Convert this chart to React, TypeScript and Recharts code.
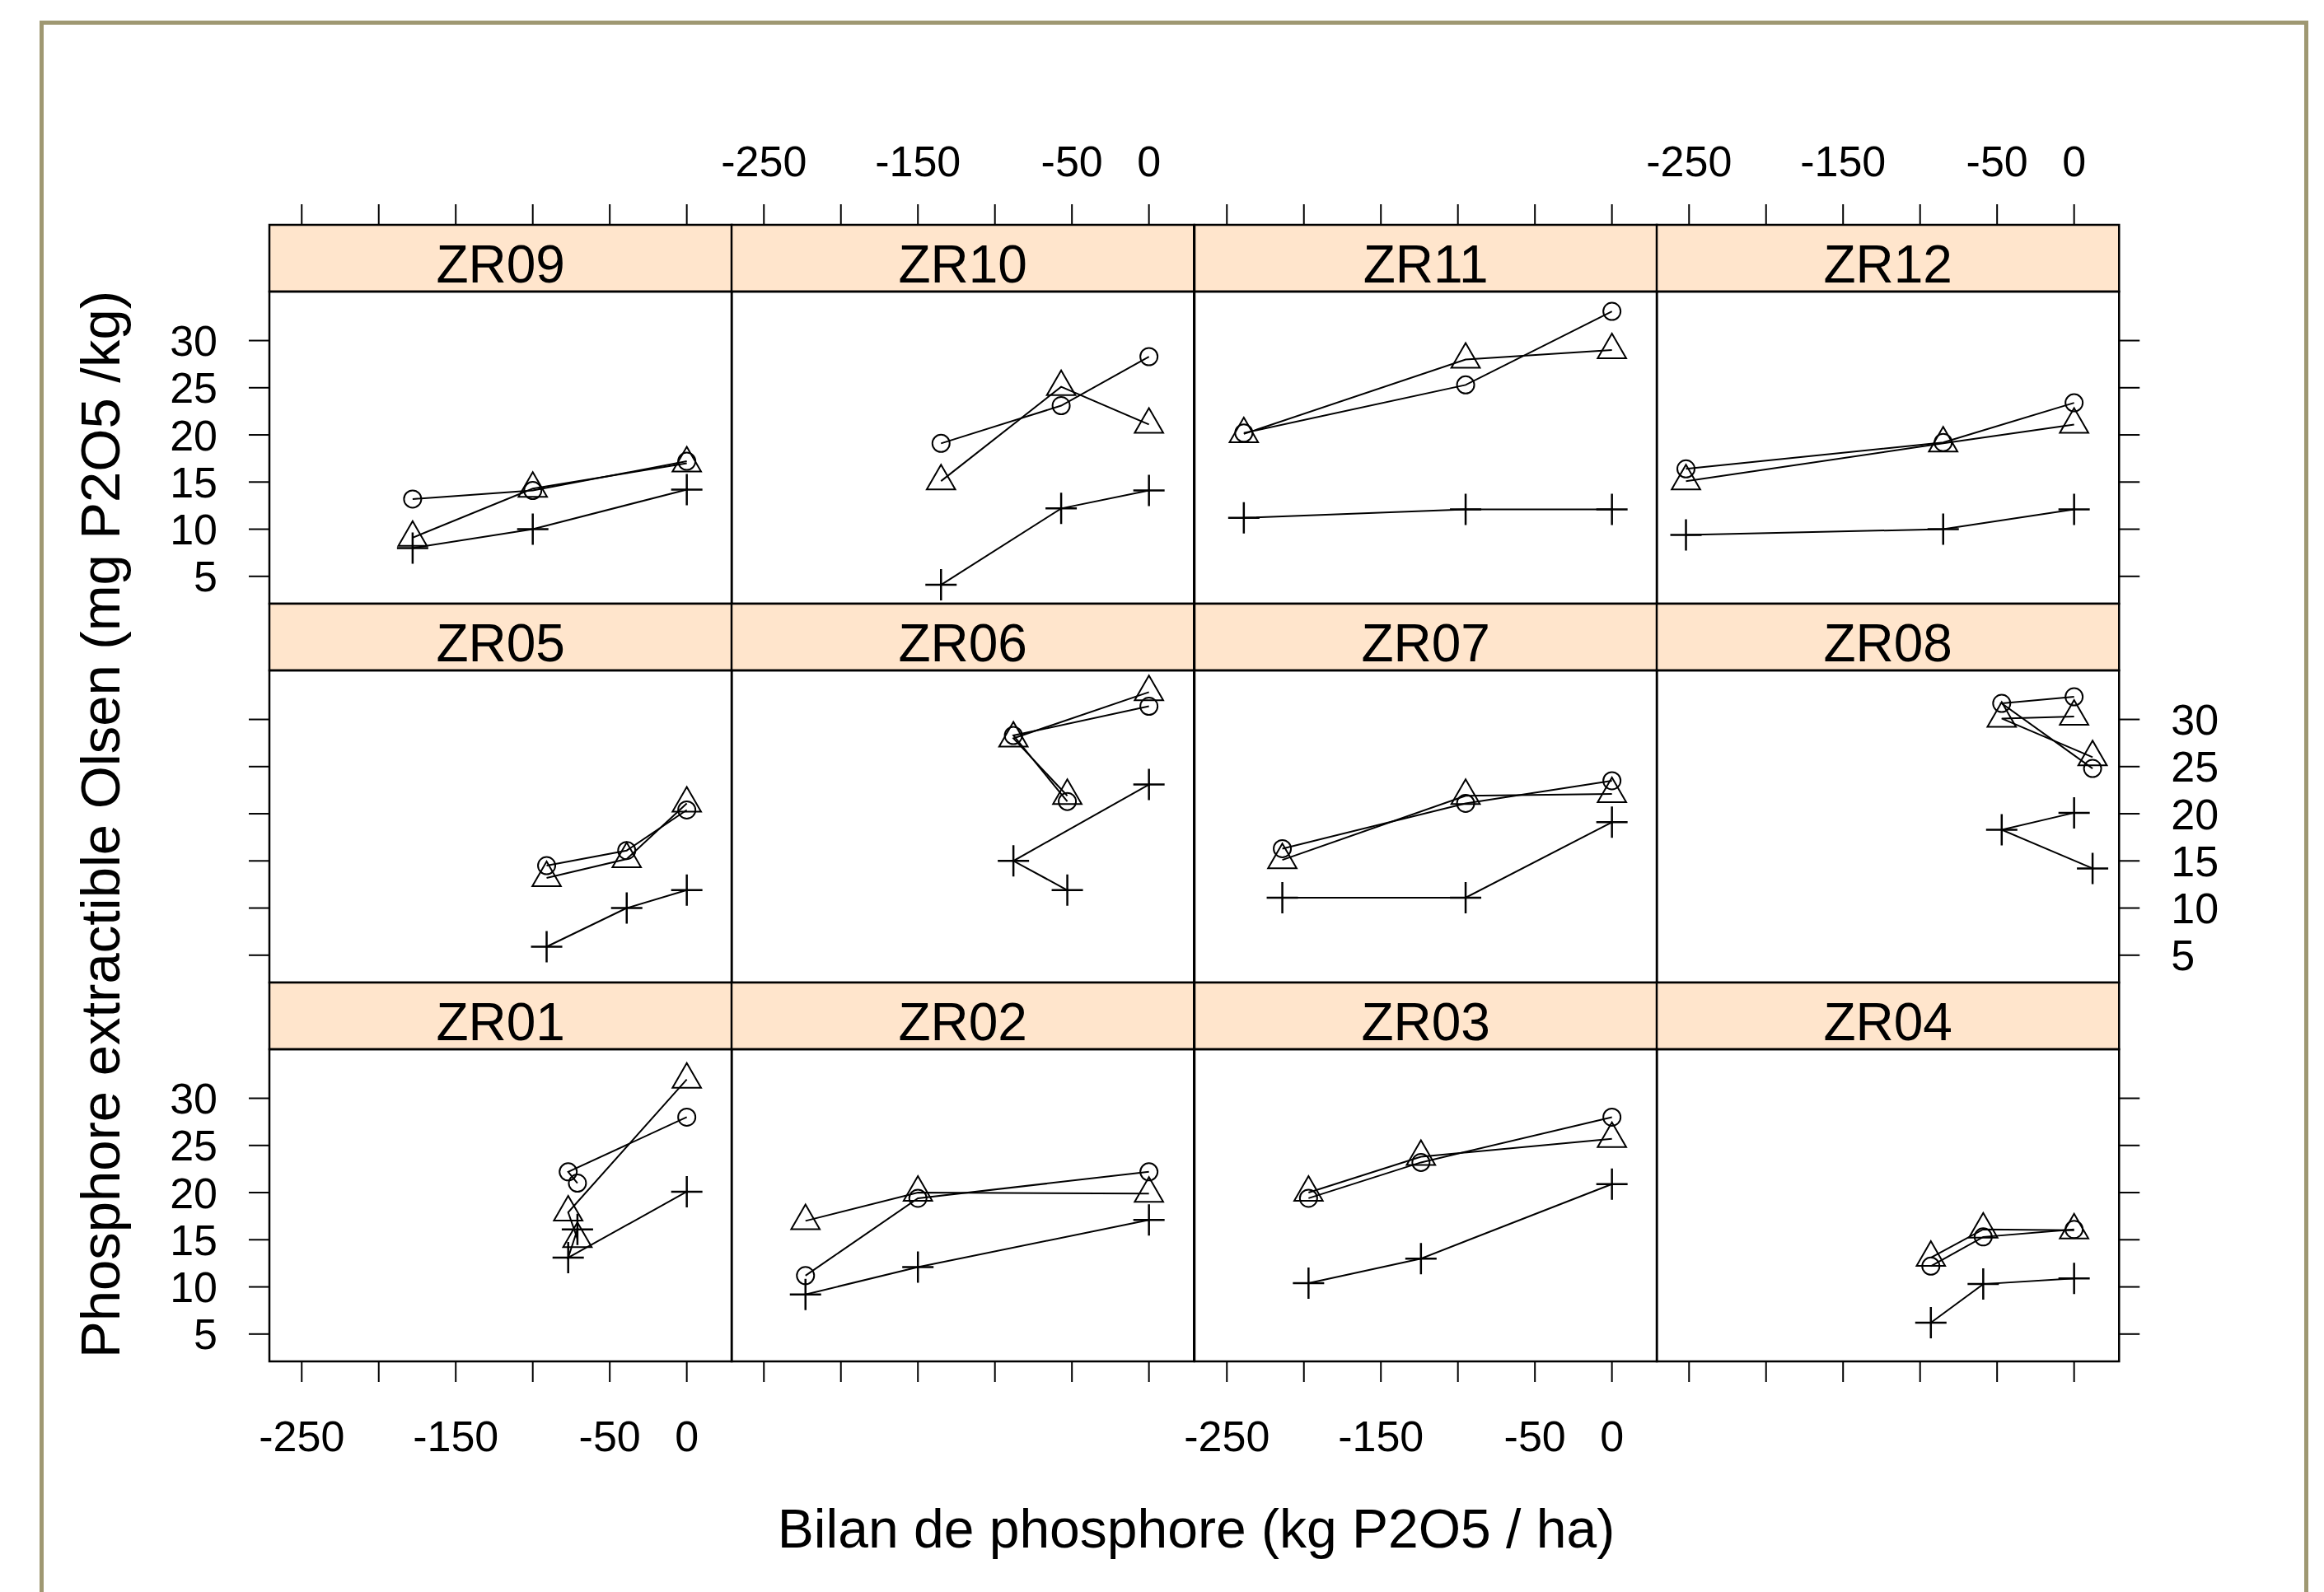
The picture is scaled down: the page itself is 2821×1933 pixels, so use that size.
import React from "react";
import { ScatterChart, Scatter, XAxis, YAxis, ReferenceArea } from "recharts";

// panel order follows the picture: top row first, left to right
const panelNames = ["ZR09", "ZR10", "ZR11", "ZR12", "ZR05", "ZR06", "ZR07", "ZR08", "ZR01", "ZR02", "ZR03", "ZR04"];

// phosphorus balance (x), in the order the points are joined
const balance = [
  [-178, -100, 0],
  [-135, -57, 0],
  [-239, -95, 0],
  [-252, -85, 0],
  [-91, -39, 0],
  [0, -88, -53],
  [-214, -95, 0],
  [0, -47, 12],
  [-71, -77, 0],
  [-223, -150, 0],
  [-197, -124, 0],
  [-93, -59, 0],
];

// Olsen P, one list per symbol
const circleVals = [
  [13.2, 14.1, 17.2],
  [19.1, 23.1, 28.3],
  [20.2, 25.3, 33.1],
  [16.4, 19.2, 23.4],
  [14.5, 16.1, 20.4],
  [31.4, 28.3, 21.3],
  [16.3, 21.1, 23.5],
  [32.4, 31.7, 24.8],
  [21.0, 22.2, 28.0],
  [11.2, 19.4, 22.2],
  [19.4, 23.2, 28.0],
  [12.2, 15.3, 16.1],
];
const triangleVals = [
  [9.1, 14.3, 17.0],
  [15.1, 25.1, 21.1],
  [20.1, 28.0, 29.0],
  [15.1, 19.1, 21.1],
  [13.2, 15.2, 21.1],
  [32.9, 28.0, 21.9],
  [15.1, 21.9, 22.1],
  [30.3, 30.1, 26.0],
  [15.1, 17.9, 32.0],
  [17.0, 20.0, 19.9],
  [20.0, 23.8, 25.7],
  [13.1, 16.1, 16.0],
];
const plusVals = [
  [8.0, 10.0, 14.2],
  [4.1, 12.2, 14.1],
  [11.2, 12.1, 12.1],
  [9.4, 10.0, 12.1],
  [5.9, 10.0, 11.9],
  [23.1, 15.0, 11.9],
  [11.1, 11.1, 19.1],
  [20.1, 18.3, 14.2],
  [16.1, 13.1, 20.1],
  [9.2, 12.1, 17.1],
  [10.4, 13.0, 20.9],
  [6.2, 10.3, 10.9],
];

const xTicks = [-250, -200, -150, -100, -50, 0];
const xLabelled = [-250, -150, -50, 0];
const yTicks = [5, 10, 15, 20, 25, 30];

const FONT = "'Liberation Sans', Arial, sans-serif";
const X_DOMAIN: [number, number] = [-271, 29.2];
const Y_MIN = 2.1;
const Y_PANEL_MAX = 35.2;
const LEFT = 327;
const COL_W = 561.25;
const ROW_Y = [273, 733, 1193];
const STRIP_H = 81;
const PANEL_H = 379;
// the strip sits inside the plot area, above the panel
const Y_MAX = Y_PANEL_MAX + ((Y_PANEL_MAX - Y_MIN) * STRIP_H) / PANEL_H;

const CircleMark = (p: any) => (
  <circle cx={p.cx} cy={p.cy} r={10.5} fill="none" stroke="#000" strokeWidth={2} />
);

const TriangleMark = (p: any) => {
  const r = 20;
  const h = r * 0.866;
  return (
    <polygon
      points={`${p.cx},${p.cy - r} ${p.cx + h},${p.cy + r / 2} ${p.cx - h},${p.cy + r / 2}`}
      fill="none"
      stroke="#000"
      strokeWidth={2}
    />
  );
};

const PlusMark = (p: any) => (
  <path
    d={`M${p.cx - 19},${p.cy}H${p.cx + 19}M${p.cx},${p.cy - 19}V${p.cy + 19}`}
    stroke="#000"
    strokeWidth={2.5}
    fill="none"
  />
);

function Panel({ idx }: { idx: number }) {
  const r = Math.floor(idx / 4);
  const c = idx % 4;
  const MY = 4;
  const MX = 70; // room so that "-250" is not cut at the chart edge
  const lw = c === 0 ? 140 : 0;
  const rw = c === 3 ? 140 : 0;
  const th = r === 0 ? 120 : 0;
  const bh = r === 2 ? 130 : 0;
  const w = COL_W + lw + rw + 2 * MX;
  const h = STRIP_H + PANEL_H + th + bh + 2 * MY;
  const showX = (r === 0 && c % 2 === 1) || (r === 2 && c % 2 === 0);
  const showY = (c === 0 && r !== 1) || (c === 3 && r === 1);

  const pts = (vals: number[][]) => balance[idx].map((x, k) => ({ x, y: vals[idx][k] }));
  const tickStyle = { fontSize: 52, fill: "#000", fontFamily: FONT };
  const lineStyle = { stroke: "#000", strokeWidth: 2 };

  return (
    <div style={{ position: "absolute", left: LEFT + c * COL_W - lw - MX, top: ROW_Y[r] - th - MY }}>
      <ScatterChart width={w} height={h} margin={{ top: MY, right: MX, bottom: MY, left: MX }}>
        <XAxis
          type="number"
          dataKey="x"
          domain={X_DOMAIN}
          allowDataOverflow
          ticks={xTicks}
          interval={0}
          orientation={r === 0 ? "top" : "bottom"}
          hide={r === 1}
          height={r === 0 ? th : bh}
          tickSize={25}
          tickMargin={r === 0 ? 34 : 47}
          axisLine={false}
          tickLine={{ stroke: "#000", strokeWidth: 2 }}
          tick={tickStyle}
          tickFormatter={(v: number) => (showX && xLabelled.includes(v) ? String(v) : "")}
        />
        <YAxis
          type="number"
          dataKey="y"
          domain={[Y_MIN, Y_MAX]}
          allowDataOverflow
          ticks={yTicks}
          interval={0}
          orientation={c === 3 ? "right" : "left"}
          hide={c === 1 || c === 2}
          width={140}
          tickSize={25}
          tickMargin={38}
          axisLine={false}
          tickLine={{ stroke: "#000", strokeWidth: 2 }}
          tick={tickStyle}
          tickFormatter={(v: number) => (showY ? String(v) : "")}
        />
        <ReferenceArea
          x1={X_DOMAIN[0]}
          x2={X_DOMAIN[1]}
          y1={Y_PANEL_MAX}
          y2={Y_MAX}
          fill="#ffe5cc"
          fillOpacity={1}
          stroke="#000"
          strokeWidth={2.5}
          label={{ value: panelNames[idx], position: "center", fontSize: 64, fill: "#000", fontFamily: FONT, dy: 7 }}
        />
        <ReferenceArea
          x1={X_DOMAIN[0]}
          x2={X_DOMAIN[1]}
          y1={Y_MIN}
          y2={Y_PANEL_MAX}
          fill="none"
          fillOpacity={0}
          stroke="#000"
          strokeWidth={2.5}
        />
        <Scatter data={pts(circleVals)} shape={CircleMark} line={lineStyle} lineType="joint" isAnimationActive={false} />
        <Scatter data={pts(triangleVals)} shape={TriangleMark} line={lineStyle} lineType="joint" isAnimationActive={false} />
        <Scatter data={pts(plusVals)} shape={PlusMark} line={lineStyle} lineType="joint" isAnimationActive={false} />
      </ScatterChart>
    </div>
  );
}

export default function App() {
  return (
    <div
      style={{
        position: "absolute",
        left: 0,
        top: 0,
        width: 2821,
        height: 1933,
        overflow: "hidden",
        background: "#fff",
        fontFamily: FONT,
      }}
    >
      <div
        style={{
          position: "absolute",
          left: 48,
          top: 25,
          width: 2744,
          height: 1960,
          border: "5px solid #9f9872",
        }}
      />
      {panelNames.map((_, i) => (
        <Panel key={i} idx={i} />
      ))}
      <svg width={2821} height={1933} style={{ position: "absolute", left: 0, top: 0, pointerEvents: "none" }}>
        <text
          x={1452}
          y={1856}
          dy="0.35em"
          textAnchor="middle"
          fontSize={66}
          fontFamily={FONT}
          fill="#000"
        >
          Bilan de phosphore (kg P2O5 / ha)
        </text>
        <text
          transform="translate(122,1001) rotate(-90)"
          dy="0.35em"
          textAnchor="middle"
          fontSize={67}
          fontFamily={FONT}
          fill="#000"
        >
          Phosphore extractible Olsen (mg P2O5 /kg)
        </text>
      </svg>
    </div>
  );
}
